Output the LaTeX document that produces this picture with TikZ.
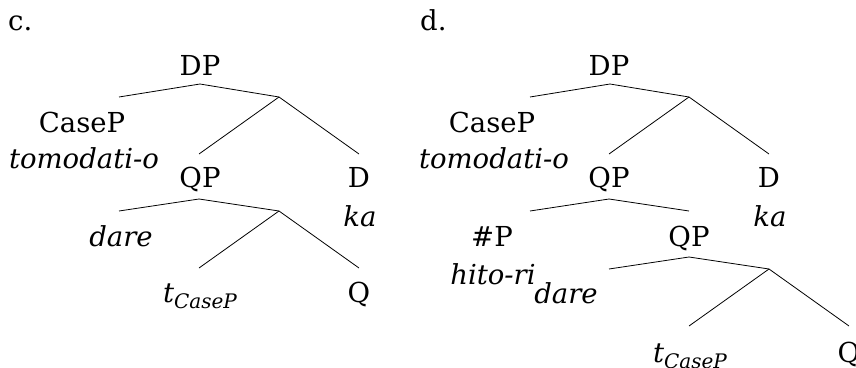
\documentclass[tikz,border=0pt]{standalone}
\usepackage{fontspec}
\setmainfont{DejaVu Serif}
\begin{document}
\begin{tikzpicture}[x=1pt,y=-1pt,
  lbl/.style={anchor=base,inner sep=0pt,font=\fontsize{27.5}{30}\selectfont},
  sub/.style={},
  branch/.style={line width=0.8pt,black}]
\useasboundingbox (0,0) rectangle (856,367);
% ---------- tree c ----------
\node[lbl,anchor=base west] (c) at (8,30) {c.};
\node[lbl] (cDP) at (200,75) {DP};
\coordinate (cDPt) at (200,84);
\coordinate (cDPl) at (119,97);
\coordinate (cDPr) at (279,97);
\coordinate (cQPt0) at (199,154);
\coordinate (cDt) at (359,154);
\node[lbl] (cCase) at (82,132) {CaseP};
\node[lbl] (ctomo) at (84,168) {\itshape tomodati-o};
\node[lbl] (cQP) at (200,187) {QP};
\node[lbl] (cD) at (359,187) {D};
\node[lbl] (cka) at (360,226) {\itshape ka};
\coordinate (cQPt) at (199,199);
\coordinate (cQPl) at (119,211);
\coordinate (cQPr) at (279,211);
\coordinate (ctt) at (199,268);
\coordinate (cQt) at (359,268);
\node[lbl] (cdare) at (121,246) {\itshape dare};
\node[lbl] (ct) at (200,302) {\itshape t\raisebox{-0.22em}{\fontsize{20}{22}\selectfont CaseP}};
\node[lbl] (cQ) at (359,302) {Q};
\draw[branch] (cDPl) -- (cDPt) -- (cDPr);
\draw[branch] (cQPt0) -- (cDPr) -- (cDt);
\draw[branch] (cQPl) -- (cQPt) -- (cQPr);
\draw[branch] (ctt) -- (cQPr) -- (cQt);
% ---------- tree d ----------
\node[lbl,anchor=base west] (d) at (420,30) {d.};
\node[lbl] (dDP) at (609,75) {DP};
\coordinate (dDPt) at (610,84);
\coordinate (dDPl) at (530,97);
\coordinate (dDPr) at (689,97);
\coordinate (dQPt0) at (609,154);
\coordinate (dDt) at (769,154);
\node[lbl] (dCase) at (492,132) {CaseP};
\node[lbl] (dtomo) at (494,168) {\itshape tomodati-o};
\node[lbl] (dQP) at (609,187) {QP};
\node[lbl] (dD) at (769,187) {D};
\node[lbl] (dka) at (770,226) {\itshape ka};
\coordinate (dQPt) at (609,199);
\coordinate (dQPl) at (530,211);
\coordinate (dQPr) at (689,211);
\node[lbl] (dNum) at (492,246) {\#P};
\node[lbl] (dhito) at (493,284) {\itshape hito-ri};
\node[lbl] (dQP2) at (689,246) {QP};
\coordinate (dQ2t) at (689,257);
\coordinate (dQ2l) at (609,269);
\coordinate (dQ2r) at (769,269);
\node[lbl] (ddare) at (566,303) {\itshape dare};
\coordinate (dtt) at (689,326);
\coordinate (dQt) at (849,326);
\node[lbl] (dt) at (690,362) {\itshape t\raisebox{-0.22em}{\fontsize{20}{22}\selectfont CaseP}};
\node[lbl] (dQ) at (849,362) {Q};
\draw[branch] (dDPl) -- (dDPt) -- (dDPr);
\draw[branch] (dQPt0) -- (dDPr) -- (dDt);
\draw[branch] (dQPl) -- (dQPt) -- (dQPr);
\draw[branch] (dQ2l) -- (dQ2t) -- (dQ2r);
\draw[branch] (dtt) -- (dQ2r) -- (dQt);
\end{tikzpicture}
\end{document}
